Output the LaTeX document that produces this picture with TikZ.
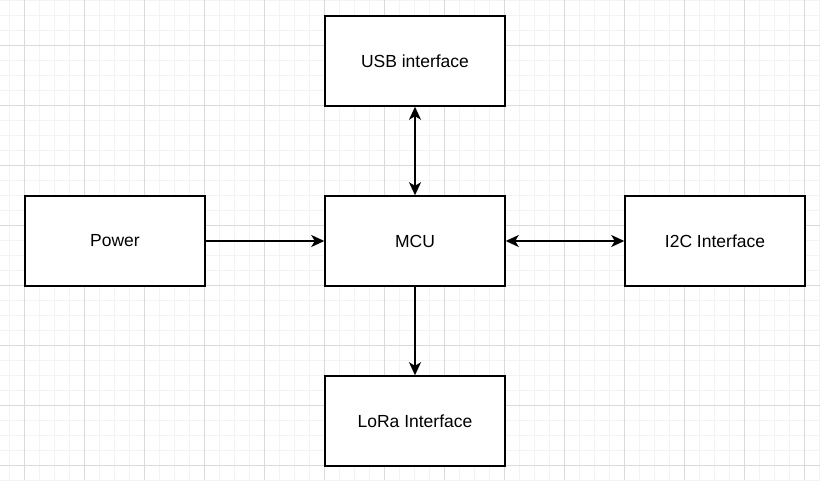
\documentclass[tikz,border=0pt]{standalone}
\usepackage{fontspec}
\setmainfont{Liberation Sans}
\usetikzlibrary{arrows.meta}
\definecolor{minorgrid}{HTML}{F3F3F3}
\definecolor{majorgrid}{HTML}{DADADA}
\tikzset{
  blockbox/.style={draw=black, line width=1.5pt, fill=white, minimum width=180pt, minimum height=90pt, inner sep=0pt, font=\fontsize{17.5}{20}\selectfont},
  conn/.style={line width=1.5pt, -{Stealth[length=13pt, width=12pt, inset=3.5pt]}},
  bconn/.style={line width=1.5pt, {Stealth[length=13pt, width=12pt, inset=3.5pt]}-{Stealth[length=13pt, width=12pt, inset=3.5pt]}}
}
\begin{document}
\begin{tikzpicture}[x=1pt,y=-1pt]
\useasboundingbox (0,0) rectangle (820,480);
\fill[white] (0,0) rectangle (820,480);
% minor grid
\foreach \x in {9,24,...,819} \draw[minorgrid, line width=1pt] (\x,0) -- (\x,480);
\foreach \y in {0,15,...,480} \draw[minorgrid, line width=1pt] (0,\y) -- (820,\y);
% major grid
\foreach \x in {24,84,...,819} \draw[majorgrid, line width=1pt] (\x,0) -- (\x,480);
\foreach \y in {45,105,...,480} \draw[majorgrid, line width=1pt] (0,\y) -- (820,\y);
% nodes
\node[blockbox] (usb) at (415,61) {USB interface};
\node[blockbox] (mcu) at (415,241) {MCU};
\node[blockbox] (pwr) at (115,241) {Power};
\node[blockbox] (i2c) at (715,241) {I2C Interface};
\node[blockbox] (lora) at (415,421) {LoRa Interface};
% connectors
\draw[bconn] (usb.south) -- (mcu.north);
\draw[conn] (pwr.east) -- (mcu.west);
\draw[bconn] (mcu.east) -- (i2c.west);
\draw[conn] (mcu.south) -- (lora.north);
\end{tikzpicture}
\end{document}
